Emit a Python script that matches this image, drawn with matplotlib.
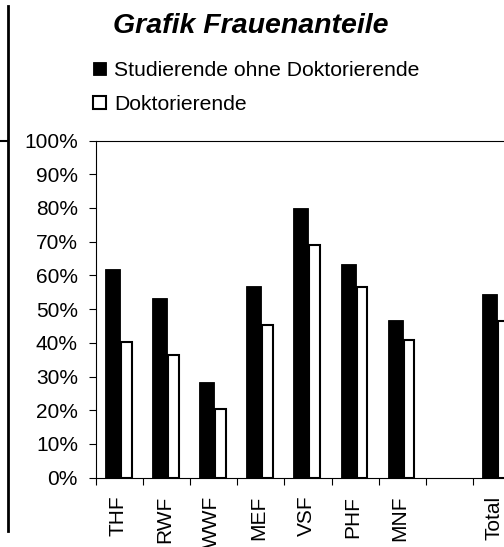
import numpy as np
import matplotlib
matplotlib.use('Agg')
from matplotlib import pyplot as plt
from matplotlib.lines import Line2D
from matplotlib.transforms import ScaledTranslation

# Frauenanteile je Fakultaet (in %)
categories = ['THF', 'RWF', 'WWF', 'MEF', 'VSF', 'PHF', 'MNF', '', 'Total']
studierende = [61.9, 53.3, 28.4, 56.9, 79.9, 63.3, 46.8, np.nan, 54.5]
doktorierende = [40.1, 36.3, 20.5, 45.4, 69.0, 56.5, 40.8, np.nan, 46.4]
y_ticks = [0, 10, 20, 30, 40, 50, 60, 70, 80, 90, 100]

plt.rcParams['font.family'] = ['Liberation Sans', 'DejaVu Sans']

W, H = 504, 547
fig = plt.figure(figsize=(W / 100, H / 100), dpi=100)
ax = fig.add_axes([96 / W, (H - 477.7) / H, 424 / W, 337.2 / H])

index = np.arange(len(categories))
b1 = ax.bar(index + 0.19, studierende, 0.32, align='edge', color='black',
            edgecolor='black', linewidth=0.6, label='Studierende ohne Doktorierende')
b2 = ax.bar(index + 0.53, doktorierende, 0.23, align='edge', color='white',
            edgecolor='black', linewidth=1.5, label='Doktorierende')

ax.set_xlim(0, len(categories))
ax.set_ylim(0, 100)
ax.set_yticks(y_ticks)
ax.set_yticklabels([f'{v}%' for v in y_ticks])
ax.set_xticks(np.arange(len(categories) + 1))
ax.set_xticklabels([])
ax.set_xticks(index + 0.5, minor=True)
ax.set_xticklabels(categories, minor=True, rotation=90, va='top', ha='center')
ax.tick_params(axis='y', direction='out', length=5, width=0.8, pad=8, labelsize=15)
ax.tick_params(axis='x', which='major', direction='out', length=5, width=0.8)
ax.tick_params(axis='x', which='minor', length=0, pad=13, labelsize=15)
for lbl in ax.get_xticklabels(minor=True):
    lbl.set_transform(lbl.get_transform() + ScaledTranslation(-2 / 100, 0, fig.dpi_scale_trans))
for s in ax.spines.values():
    s.set_linewidth(0.8)

fig.text(251 / W, 1 - 26 / H, 'Grafik Frauenanteile', ha='center', va='center',
         fontsize=20.5, fontweight='bold', fontstyle='italic')

fig.legend(handles=[b1, b2], loc='upper left', bbox_to_anchor=(93 / W, 1 - 61 / H),
           frameon=False, fontsize=15.2, handlelength=0.6, handleheight=0.6,
           handletextpad=0.4, labelspacing=0.72, borderpad=0, borderaxespad=0)

# Rand links (Ausschnitt aus dem Dokument)
fig.add_artist(Line2D([8.3 / W, 8.3 / W], [1 - 6 / H, 1 - 531 / H], color='black', linewidth=2))
fig.add_artist(Line2D([0, 8.3 / W], [1 - 140.7 / H, 1 - 140.7 / H], color='black', linewidth=1.5))

fig.savefig('out.png', dpi=100)
